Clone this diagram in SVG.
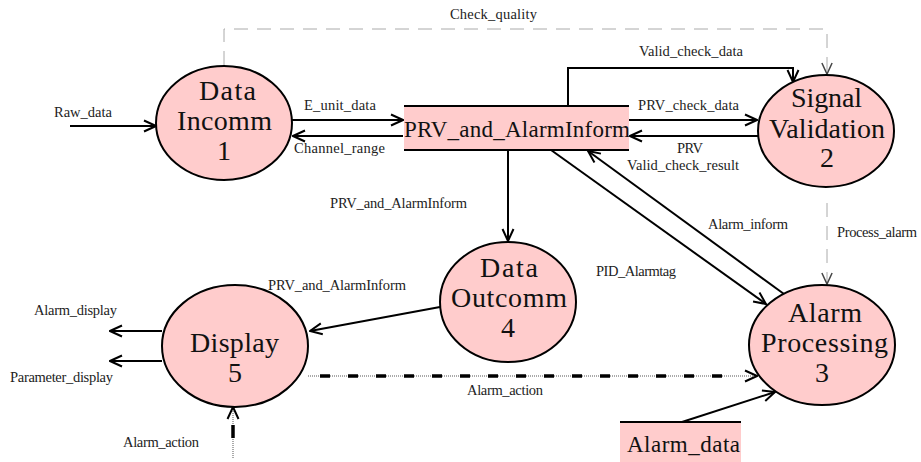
<svg xmlns="http://www.w3.org/2000/svg" width="921" height="462" viewBox="0 0 921 462">
<style>
.node{fill:#ffcccc;stroke:#000;stroke-width:2}
.store{fill:#ffcccc;stroke:none}
.sline{stroke:#000;stroke-width:2.2}
.nt{font-family:"Liberation Serif","Times New Roman",serif;font-size:28px;fill:#111}
.st{font-family:"Liberation Serif","Times New Roman",serif;font-size:23px;fill:#111}
.lb{font-family:"Liberation Serif","Times New Roman",serif;font-size:14.5px;fill:#222}
.flow{fill:none;stroke:#000;stroke-width:2;marker-end:url(#arr)}
.ctl{fill:none;stroke:#aaa;stroke-width:1;stroke-dasharray:14 9}
.dot{fill:none;stroke:#aaa;stroke-width:2;stroke-dasharray:1 1}
.dash{fill:none;stroke:#000;stroke-width:3.5}
</style>
<defs>
<marker id="arr" viewBox="0 0 14 14" refX="13" refY="7" markerWidth="14" markerHeight="14" markerUnits="userSpaceOnUse" orient="auto">
<path d="M1,1.5 L13,7 L1,12.5" fill="none" stroke="#000" stroke-width="2"/>
</marker>
<marker id="garr" viewBox="0 0 14 14" refX="13" refY="7" markerWidth="13" markerHeight="13" markerUnits="userSpaceOnUse" orient="auto">
<path d="M1,1.5 L13,7 L1,12.5" fill="none" stroke="#444" stroke-width="1.6"/>
</marker>
</defs>

<g id="connectors">
<path class="flow" d="M70,126 L156,126"/>
<path class="flow" d="M292,120 L403,120"/>
<path class="flow" d="M403,136 L293,136"/>
<path class="flow" d="M629,120 L757,120"/>
<path class="flow" d="M758,136 L630,136"/>
<path class="flow" d="M568,106 L568,68 L793,68 L793,82"/>
<path class="ctl" d="M224,65 L224,29 L827,29 L827,74"/>
<path d="M827,74 L827,74.1" fill="none" stroke="#444" marker-end="url(#garr)"/>
<path class="ctl" d="M827,203 L827,284"/>
<path d="M827,284 L827,284.1" fill="none" stroke="#444" marker-end="url(#garr)"/>
<path class="flow" d="M508,150 L508,241"/>
<path class="flow" d="M551,150 L766,304"/>
<path class="flow" d="M784,294 L588,151"/>
<path class="flow" d="M440,307 L310,331"/>
<path class="flow" d="M162,331 L110,331"/>
<path class="flow" d="M162,361 L110,361"/>
<path class="dot" d="M308,376 L756,376"/>
<path class="dash" d="M308,376 L740,376" stroke-dasharray="10 18" stroke-dashoffset="16"/>
<path d="M740,376 L757,376" fill="none" stroke="none" marker-end="url(#arr)"/>
<path class="dot" d="M233,458 L233,409"/>
<path class="dash" d="M233,438 L233,425"/>
<path d="M233,420 L233,407" fill="none" stroke="none" marker-end="url(#arr)"/>
<path class="flow" d="M682,422 L775,392"/>
</g>

<g id="labels">
<text class="lb" x="450" y="19" textLength="87" lengthAdjust="spacing">Check_quality</text>
<text class="lb" x="639" y="55.5" textLength="104" lengthAdjust="spacing">Valid_check_data</text>
<text class="lb" x="54" y="117" textLength="58" lengthAdjust="spacing">Raw_data</text>
<text class="lb" x="304" y="110" textLength="72" lengthAdjust="spacing">E_unit_data</text>
<text class="lb" x="294" y="153" textLength="91" lengthAdjust="spacing">Channel_range</text>
<text class="lb" x="638" y="110" textLength="101" lengthAdjust="spacing">PRV_check_data</text>
<text class="lb" x="677" y="153" textLength="26" lengthAdjust="spacing">PRV</text>
<text class="lb" x="627" y="170" textLength="112" lengthAdjust="spacing">Valid_check_result</text>
<text class="lb" x="330" y="208" textLength="137" lengthAdjust="spacing">PRV_and_AlarmInform</text>
<text class="lb" x="708" y="229" textLength="80" lengthAdjust="spacing">Alarm_inform</text>
<text class="lb" x="837" y="237" textLength="80" lengthAdjust="spacing">Process_alarm</text>
<text class="lb" x="596" y="276" textLength="80" lengthAdjust="spacing">PID_Alarmtag</text>
<text class="lb" x="268" y="290" textLength="138" lengthAdjust="spacing">PRV_and_AlarmInform</text>
<text class="lb" x="34" y="315" textLength="83" lengthAdjust="spacing">Alarm_display</text>
<text class="lb" x="10" y="382" textLength="103" lengthAdjust="spacing">Parameter_display</text>
<text class="lb" x="467" y="395" textLength="76" lengthAdjust="spacing">Alarm_action</text>
<text class="lb" x="123" y="447" textLength="76" lengthAdjust="spacing">Alarm_action</text>
</g>

<g id="store-prv">
<rect class="store" x="404" y="106" width="225" height="44"/>
<line class="sline" x1="404" y1="106" x2="629" y2="106"/>
<line class="sline" x1="404" y1="150" x2="629" y2="150"/>
<text class="st" x="404" y="137" textLength="226" lengthAdjust="spacing">PRV_and_AlarmInform</text>
</g>

<g id="store-alarm-data">
<rect class="store" x="620" y="422" width="121" height="40"/>
<line class="sline" x1="620" y1="422" x2="741" y2="422"/>
<text class="st" x="627" y="452" textLength="113" lengthAdjust="spacing">Alarm_data</text>
</g>

<g id="node1">
<ellipse class="node" cx="224" cy="123" rx="68" ry="57"/>
<text class="nt" x="199" y="100" textLength="57" lengthAdjust="spacing">Data</text>
<text class="nt" x="177" y="130" textLength="95" lengthAdjust="spacing">Incomm</text>
<text class="nt" x="224" y="160" text-anchor="middle">1</text>
</g>

<g id="node2">
<ellipse class="node" cx="826" cy="131" rx="68" ry="56"/>
<text class="nt" x="791" y="107" textLength="71" lengthAdjust="spacing">Signal</text>
<text class="nt" x="769" y="138" textLength="116" lengthAdjust="spacing">Validation</text>
<text class="nt" x="827" y="167" text-anchor="middle">2</text>
</g>

<g id="node3">
<ellipse class="node" cx="822" cy="345" rx="73" ry="60"/>
<text class="nt" x="788" y="322" textLength="74" lengthAdjust="spacing">Alarm</text>
<text class="nt" x="761" y="352" textLength="127" lengthAdjust="spacing">Processing</text>
<text class="nt" x="822" y="382" text-anchor="middle">3</text>
</g>

<g id="node4">
<ellipse class="node" cx="508" cy="302" rx="68" ry="60"/>
<text class="nt" x="480" y="277" textLength="58" lengthAdjust="spacing">Data</text>
<text class="nt" x="451" y="307" textLength="116" lengthAdjust="spacing">Outcomm</text>
<text class="nt" x="508" y="337" text-anchor="middle">4</text>
</g>

<g id="node5">
<ellipse class="node" cx="235" cy="346" rx="73" ry="61"/>
<text class="nt" x="190" y="352" textLength="89" lengthAdjust="spacing">Display</text>
<text class="nt" x="235" y="382" text-anchor="middle">5</text>
</g>
</svg>
